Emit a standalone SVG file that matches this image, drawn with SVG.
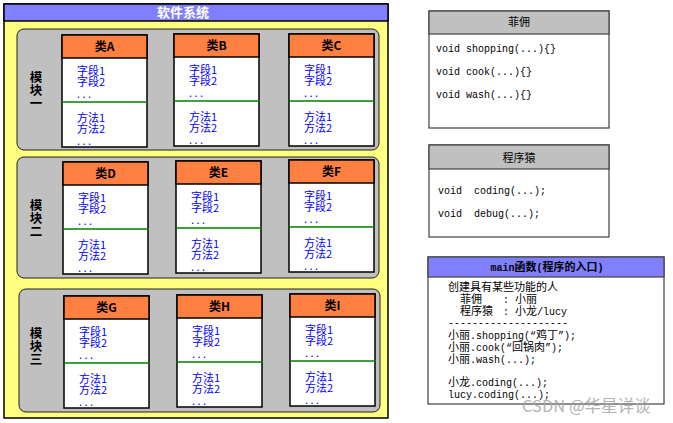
<svg xmlns="http://www.w3.org/2000/svg" width="673" height="423" viewBox="0 0 673 423">
<style>
.title{font-family:"Noto Sans CJK SC",sans-serif;font-size:13px;font-weight:bold;fill:#fff;text-anchor:middle}
.mod{font-family:"Noto Sans CJK SC",sans-serif;font-size:12.5px;font-weight:bold;fill:#000;writing-mode:vertical-rl;letter-spacing:0.5px}
.panel{fill:#c0c0c0;stroke:#202020;stroke-width:1}
.cbox{fill:#fff;stroke:#000;stroke-width:1.5}
.chead{fill:#ff8040;stroke:#000;stroke-width:1.5}
.hname{font-family:"Noto Sans CJK SC",sans-serif;font-size:12px;font-weight:bold;fill:#000;text-anchor:middle}
.mem{font-family:"Noto Sans CJK SC",sans-serif;font-size:11px;fill:#0000ff}
.sep{stroke:#008000;stroke-width:1.5}
.rbox{fill:#fff;stroke:#404040;stroke-width:1.2}
.rhead{fill:#c0c0c0;stroke:#404040;stroke-width:1.2}
.bhead{fill:#8080ff;stroke:#404040;stroke-width:1.2}
.rtitle{font-family:"Noto Sans CJK SC",sans-serif;font-size:11px;fill:#000;text-anchor:middle}
.code{font-family:"Liberation Mono","DejaVu Sans Mono","Noto Sans CJK SC",monospace;font-size:10px;fill:#000;white-space:pre}
.c{font-family:"Noto Sans CJK SC",sans-serif;font-size:11px}
</style>

<g id="system">
<rect x="4" y="4" width="384" height="414" fill="#ffff80" stroke="#000" stroke-width="1.5"/>
<rect x="4" y="4" width="384" height="17" fill="#8080ff" stroke="#000" stroke-width="1.5"/>
<text class="title" x="183" y="17">软件系统</text>
</g>

<g id="module1">
<rect class="panel" x="17" y="29" width="362" height="121" rx="7"/>
<text class="mod" x="36" y="71">模块一</text>
</g>
<g id="module2">
<rect class="panel" x="17" y="157" width="362" height="121" rx="7"/>
<text class="mod" x="36" y="199">模块二</text>
</g>
<g id="module3">
<rect class="panel" x="19" y="289" width="361" height="123" rx="7"/>
<text class="mod" x="36" y="327">模块三</text>
</g>

<defs>
<g id="cls">
<rect class="cbox" x="0" y="0" width="85" height="112"/>
<rect class="chead" x="0" y="0" width="85" height="23"/>
<line class="sep" x1="0" y1="67" x2="86" y2="67"/>
<text class="mem"><tspan x="15" y="40">字段1</tspan><tspan x="15" y="51">字段2</tspan><tspan x="15" y="63">. . .</tspan></text>
<text class="mem"><tspan x="15" y="87">方法1</tspan><tspan x="15" y="98">方法2</tspan><tspan x="15" y="110">. . .</tspan></text>
</g>
</defs>

<g id="classA"><use href="#cls" x="62" y="35"/><text class="hname" x="104.5" y="51">类A</text></g>
<g id="classB"><use href="#cls" x="174" y="34"/><text class="hname" x="216.5" y="50">类B</text></g>
<g id="classC"><use href="#cls" x="289" y="34"/><text class="hname" x="331.5" y="50">类C</text></g>
<g id="classD"><use href="#cls" x="63" y="162"/><text class="hname" x="105.5" y="178">类D</text></g>
<g id="classE"><use href="#cls" x="176" y="161"/><text class="hname" x="218.5" y="177">类E</text></g>
<g id="classF"><use href="#cls" x="289" y="160"/><text class="hname" x="331.5" y="176">类F</text></g>
<g id="classG"><use href="#cls" x="64" y="296"/><text class="hname" x="106.5" y="312">类G</text></g>
<g id="classH"><use href="#cls" x="177" y="295"/><text class="hname" x="219.5" y="311">类H</text></g>
<g id="classI"><use href="#cls" x="290" y="294"/><text class="hname" x="332.5" y="310">类I</text></g>

<g id="feiyong">
<rect class="rbox" x="429" y="11" width="180" height="117"/>
<rect class="rhead" x="429" y="11" width="180" height="23"/>
<text class="rtitle" x="519" y="26">菲佣</text>
<text class="code" x="436" y="52">void shopping(...){}</text>
<text class="code" x="436" y="75">void cook(...){}</text>
<text class="code" x="436" y="98">void wash(...){}</text>
</g>

<g id="programmer">
<rect class="rbox" x="429" y="145" width="180" height="92"/>
<rect class="rhead" x="429" y="145" width="180" height="24"/>
<text class="rtitle" x="519" y="162">程序猿</text>
<text class="code" x="438" y="194" xml:space="preserve">void  coding(...);</text>
<text class="code" x="438" y="217" xml:space="preserve">void  debug(...);</text>
</g>

<g id="main">
<rect class="rbox" x="428" y="257" width="236" height="147"/>
<rect class="bhead" x="428" y="257" width="236" height="20"/>
<text class="code" x="547" y="271" text-anchor="middle" font-weight="bold">main<tspan class="c">函数</tspan>(<tspan class="c">程序的入口</tspan>)</text>
<text class="code"><tspan class="c" x="448" y="291">创建具有某些功能的人</tspan><tspan class="c" x="460" y="303">菲佣</tspan><tspan x="503" y="303">:</tspan><tspan class="c" x="515" y="303">小丽</tspan><tspan class="c" x="460" y="315">程序猿</tspan><tspan x="503" y="315">:</tspan><tspan x="515" y="315"><tspan class="c">小龙</tspan>/lucy</tspan><tspan x="448" y="326">--------------------</tspan><tspan x="448" y="339"><tspan class="c">小丽</tspan>.shopping(“<tspan class="c">鸡丁</tspan>”);</tspan><tspan x="448" y="351"><tspan class="c">小丽</tspan>.cook(“<tspan class="c">回锅肉</tspan>”);</tspan><tspan x="448" y="363"><tspan class="c">小丽</tspan>.wash(...);</tspan><tspan x="448" y="386"><tspan class="c">小龙</tspan>.coding(...);</tspan><tspan x="448" y="398">lucy.coding(...);</tspan></text>
</g>

<text x="522" y="412" font-family="Noto Sans CJK SC,sans-serif" font-size="16.5" fill="#a8a8a8" opacity="0.85">CSDN @华星详谈</text>
</svg>
